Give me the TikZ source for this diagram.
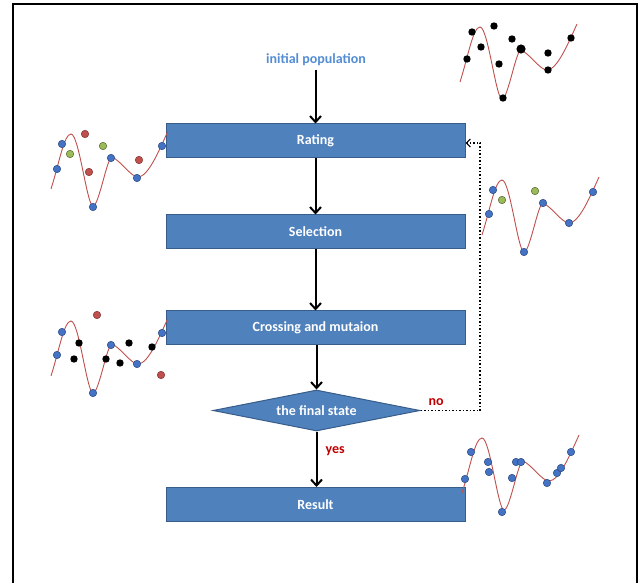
\documentclass[tikz,border=0pt]{standalone}
\usepackage{fontspec}
\setmainfont{Carlito}
\usetikzlibrary{shapes.geometric,arrows.meta}
\definecolor{boxfill}{RGB}{79,129,189}
\definecolor{boxline}{RGB}{56,93,138}
\definecolor{lblue}{RGB}{84,141,212}
\definecolor{dkred}{RGB}{192,0,0}
\definecolor{wavecol}{RGB}{192,80,77}
\definecolor{dotblue}{RGB}{68,114,196}
\definecolor{dotred}{RGB}{192,80,77}
\definecolor{dotgreen}{RGB}{155,187,89}
\tikzset{
  stepbox/.style={draw=boxline, line width=1pt, fill=boxfill, minimum width=299pt,
    minimum height=34pt, inner sep=0pt, text=white, font=\fontsize{14}{16}\selectfont\bfseries},
  decide/.style={diamond, aspect=5, draw=boxline, line width=1pt, fill=boxfill, minimum width=207pt,
    minimum height=41pt, inner sep=0pt, text=white, font=\fontsize{14}{16}\selectfont\bfseries},
  flow/.style={line width=2pt, -{Straight Barb[length=6pt,width=11pt,line width=2pt]}},
  loop/.style={line width=1.5pt, dotted, -{Straight Barb[length=4pt,width=8pt,line width=1.2pt]}},
  lbl/.style={font=\fontsize{14}{16}\selectfont\bfseries, text=dkred},
  bdot/.style={fill=dotblue, draw=dotblue!70!black, line width=0.6pt},
  kdot/.style={fill=black},
  rdot/.style={fill=dotred, draw=dotred!70!black, line width=0.6pt},
  gdot/.style={fill=dotgreen, draw=dotgreen!60!black, line width=0.6pt},
  wave/.pic={
    \draw[wavecol, line width=0.9pt] (0,0) .. controls (8,-25) and (13,-55) .. (20,-55)
      .. controls (28,-55) and (36,17) .. (42,17)
      .. controls (48,17) and (56,-32) .. (61,-32)
      .. controls (70,-28) and (80,-12) .. (87,-12)
      .. controls (97,-12) and (108,-38) .. (117,-58);
  }
}
\newcommand{\dotat}[3]{\path[#1] (#2,#3) circle (3.7pt);}
\begin{document}
\begin{tikzpicture}[x=1pt, y=-1pt]
\useasboundingbox (0,0) rectangle (641,583);
\fill[white] (0,0) rectangle (641,583);
% frame
\draw[line width=2.5pt] (13,600) -- (13,4) -- (637,4) -- (637,600);

% flow chart
\node[font=\fontsize{14}{16}\selectfont\bfseries, text=lblue] (init) at (316,60) {initial population};
\node[stepbox] (rate) at (315.5,141) {Rating};
\node[stepbox] (sel) at (315.5,232) {Selection};
\node[stepbox] (cross) at (315.5,328) {Crossing and mutaion};
\node[decide] (final) at (316.5,410.5) {the final state};
\node[stepbox] (res) at (315.5,504.5) {Result};
\coordinate (bend1) at (480,410.5);
\coordinate (bend2) at (480,143);

\draw[flow] (init.south -| rate.north) -- (rate.north);
\draw[flow] (rate) -- (sel);
\draw[flow] (sel) -- (cross);
\draw[flow] (cross.south -| final.north) -- (final.north);
\draw[flow] (final.south) -- (final.south |- res.north);
\draw[loop] (final.east) -- (bend1) -- (bend2) -- (rate.east |- bend2);
\node[lbl, anchor=south west] (no) at (425,409) {no};
\node[lbl, anchor=west] (yes) at (322,451) {yes};

% population sketches
\begin{scope}[shift={(460,82)}]
  \pic {wave};
  \foreach \x/\y in {7/-23,12/-50,21/-35,34/-56,39/-18,43/16,52/-43,88/-29,88/-12,111/-44}
    {\dotat{kdot}{\x}{\y}}
  \path[kdot] (61,-33) circle (4.6pt);
\end{scope}

\begin{scope}[shift={(51,189)}]
  \pic {wave};
  \foreach \x/\y in {6/-20,11/-45,42/18,60/-31,86/-11,111/-43} {\dotat{bdot}{\x}{\y}}
  \foreach \x/\y in {34/-55,38/-17,88/-29} {\dotat{rdot}{\x}{\y}}
  \foreach \x/\y in {19/-35,52/-43} {\dotat{gdot}{\x}{\y}}
\end{scope}

\begin{scope}[shift={(482,235)}]
  \pic {wave};
  \foreach \x/\y in {7/-21,11/-45,42/17,61/-32,87/-12,111/-43} {\dotat{bdot}{\x}{\y}}
  \foreach \x/\y in {20/-35,53/-44} {\dotat{gdot}{\x}{\y}}
\end{scope}

\begin{scope}[shift={(51,376)}]
  \pic {wave};
  \foreach \x/\y in {6/-21,11/-44,42/17,60/-31,86/-12,111/-43} {\dotat{bdot}{\x}{\y}}
  \foreach \x/\y in {28/-33,23/-17,55/-17,69/-13,78/-33,101/-29} {\dotat{kdot}{\x}{\y}}
  \foreach \x/\y in {46/-61,110/-1} {\dotat{rdot}{\x}{\y}}
\end{scope}

\begin{scope}[shift={(462,493)}]
  \pic {wave};
  \foreach \x/\y in {3/-14,9/-41,26/-31,27/-21,40/19,50/-15,54/-31,59/-31,85/-10,95/-20,99/-25,109/-41}
    {\dotat{bdot}{\x}{\y}}
\end{scope}
\end{tikzpicture}
\end{document}
